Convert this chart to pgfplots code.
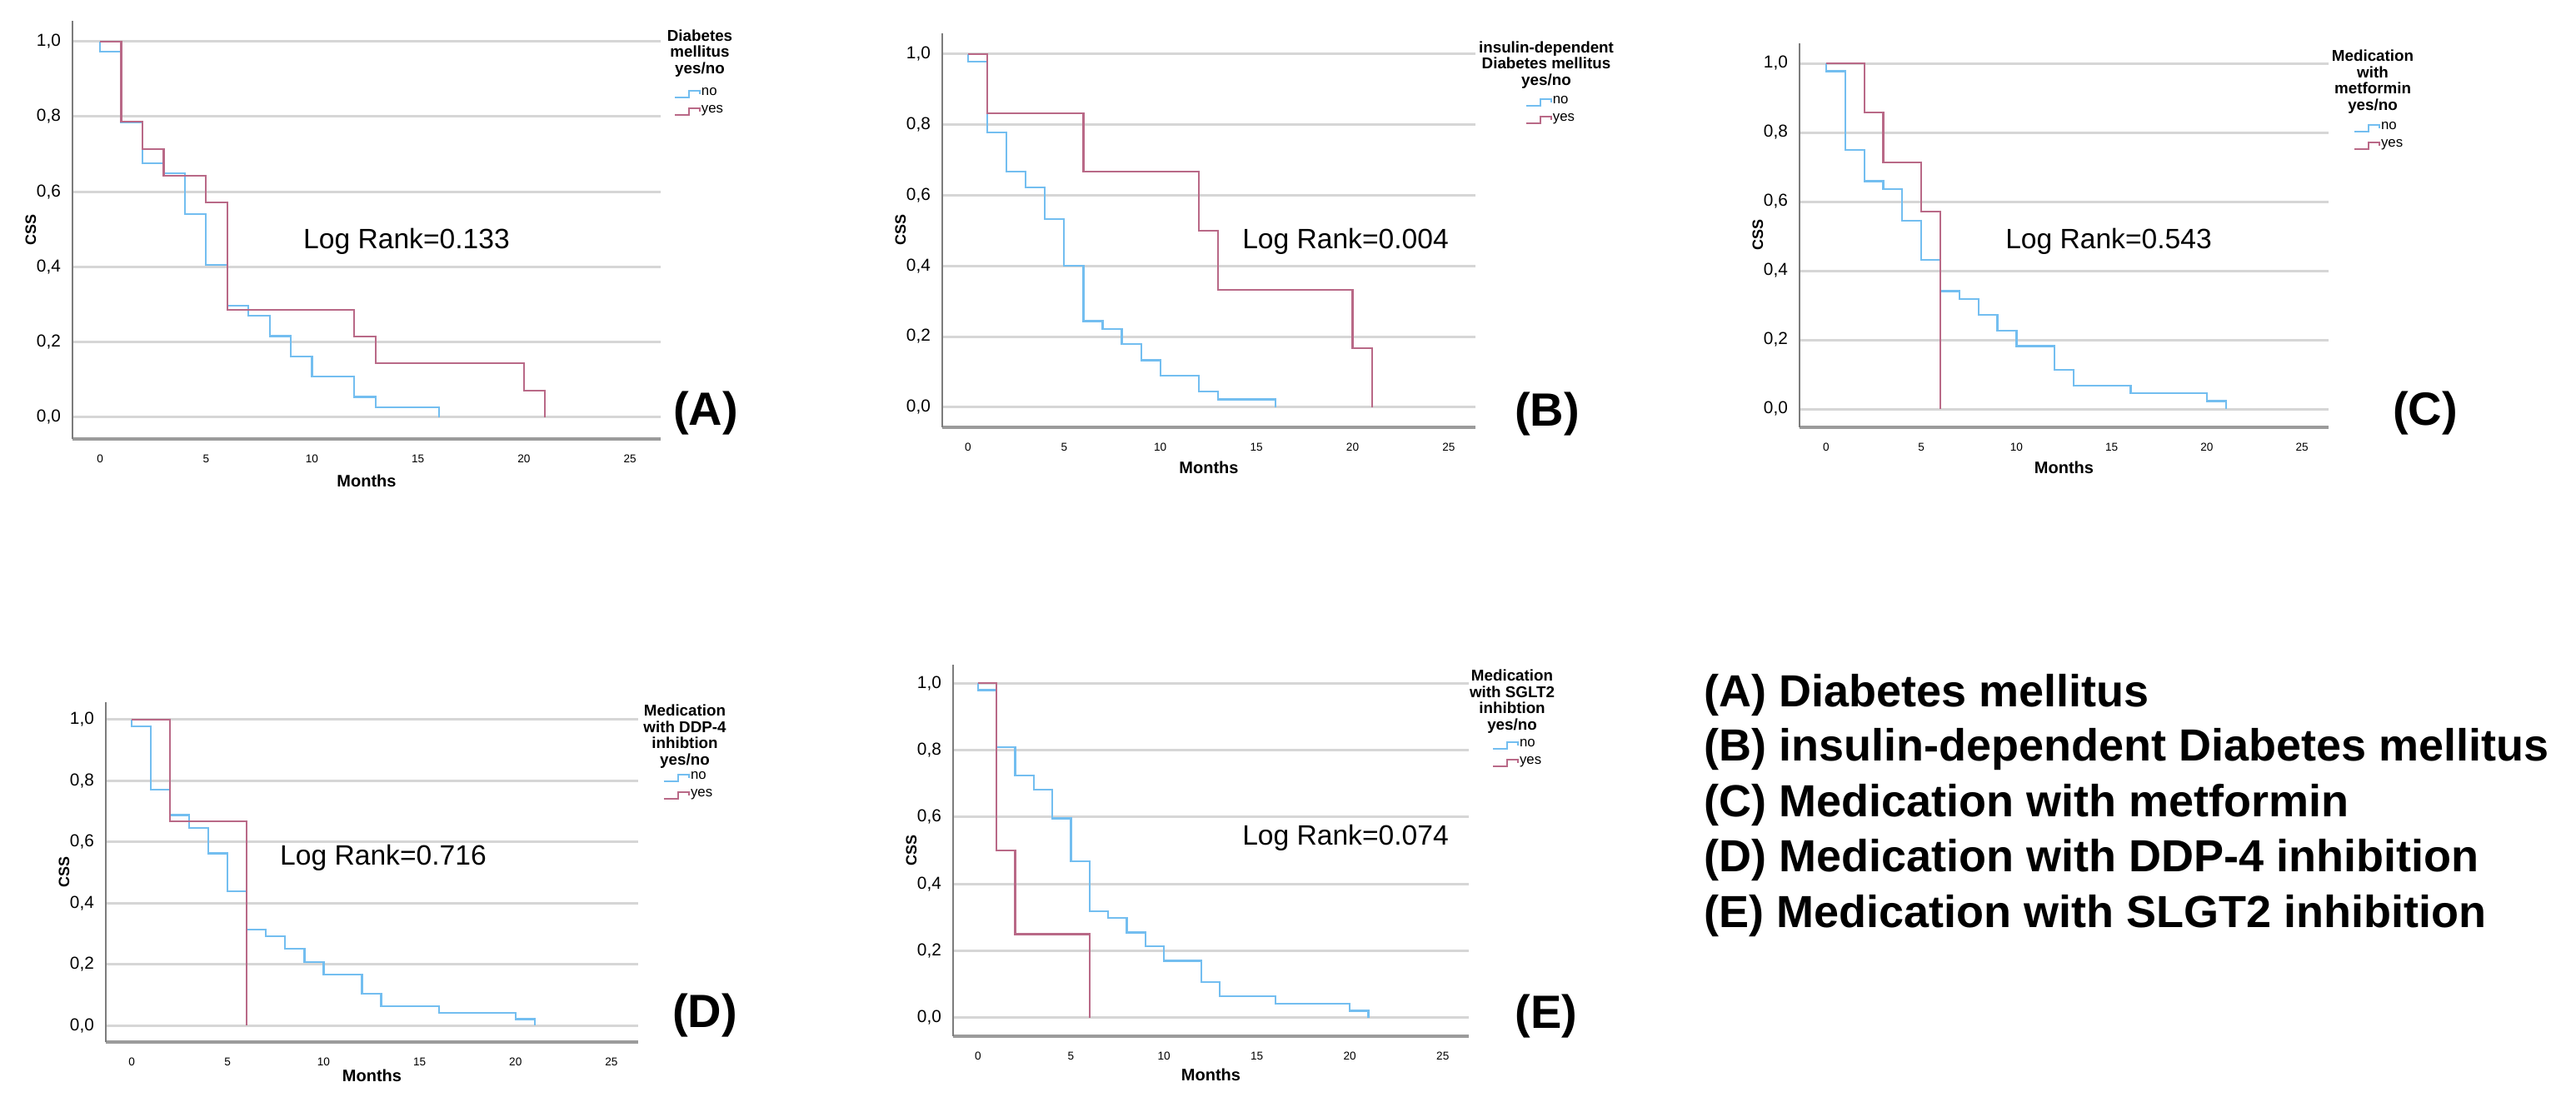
\documentclass[border=0pt]{standalone}
\usepackage{pgfplots}
\pgfplotsset{compat=1.18}
\usepackage{fontspec}
\setmainfont{Liberation Sans}

\definecolor{kmno}{RGB}{115,190,240}
\definecolor{kmyes}{RGB}{185,105,135}
\definecolor{gridc}{RGB}{214,214,214}
\definecolor{axc}{RGB}{155,155,155}

\newcommand{\fs}[2]{\fontsize{#1}{#2}\selectfont}

\pgfplotsset{
  km/.style={
    scale only axis,
    axis x line*=bottom, axis y line*=left,
    axis line style={-},
    x axis line style={draw=axc, line width=0.9pt},
    y axis line style={draw=axc!80!black, line width=0.5pt},
    xmin=-1.35, xmax=26.4, ymin=-0.056, ymax=1.057,
    xtick={0,5,10,15,20,25},
    ytick={0,0.2,0.4,0.6,0.8,1},
    ymajorgrids,
    grid style={draw=gridc, line width=0.75pt},
    major tick length=0pt,
    /pgf/number format/assume math mode=true,
    yticklabel style={font=\fs{5.2}{5.2}, /pgf/number format/.cd, fixed, fixed zerofill, precision=1, use comma},
    xticklabel style={font=\fs{3.4}{3.4}, yshift=-1.2pt},
    xlabel={Months}, ylabel={CSS},
    every axis x label/.style={at={(axis description cs:0.5,0)}, anchor=center, font=\bfseries\fs{5}{5}, yshift=-#1},
    every axis y label/.style={at={(axis description cs:0,0.5)}, rotate=90, anchor=center, font=\bfseries\fs{4.5}{4.5}, yshift=12.5pt},
    legend cell align=left,
    legend style={draw=none, fill=none, inner sep=0pt, row sep=1.1pt, anchor=west,
      nodes={inner sep=0.2pt, font=\fs{4.2}{4.2}}},
    legend image code/.code={\draw[##1, line width=0.5pt] (0pt,-1pt) -- (4.2pt,-1pt) -- (4.2pt,1pt) -- (7.6pt,1pt) -- (7.6pt,0pt);},
    no/.style={const plot, kmno, line width=0.55pt},
    yes/.style={const plot, kmyes, line width=0.55pt},
  }
}

\begin{document}
\begin{tikzpicture}
\useasboundingbox (0pt,0pt) rectangle (773pt,332pt);

% (A) Diabetes mellitus
\begin{axis}[km=12.5pt, at={(21.75pt,200.25pt)}, anchor=south west,
  width=176.5pt, height=125.5pt,
  xmin=-1.30, xmax=26.45, ymin=-0.058, ymax=1.055,
  legend style={at={(1.0212,0.8038)}}]
\addplot[no] coordinates {(0,1)(0,0.973)(1,0.784)(2,0.676)(3,0.649)(4,0.541)(5,0.405)(6,0.297)(7,0.270)(8,0.216)(9,0.162)(10,0.108)(12,0.054)(13,0.027)(16,0)};
\addlegendentry{no}
\addplot[yes] coordinates {(0,1)(1,0.786)(2,0.714)(3,0.643)(5,0.571)(6,0.286)(12,0.214)(13,0.143)(20,0.071)(21,0)};
\addlegendentry{yes}
\end{axis}

% (B) insulin-dependent Diabetes mellitus
\begin{axis}[km=12pt, at={(282.75pt,203.75pt)}, anchor=south west,
  width=160pt, height=118.25pt,
  xmin=-1.34, xmax=26.39, ymin=-0.057, ymax=1.059,
  legend style={at={(1.092,0.802)}}]
\addplot[no] coordinates {(0,1)(0,0.978)(1,0.778)(2,0.667)(3,0.622)(4,0.533)(5,0.400)(6,0.244)(7,0.222)(8,0.178)(9,0.133)(10,0.089)(12,0.044)(13,0.022)(16,0)};
\addlegendentry{no}
\addplot[yes] coordinates {(0,1)(1,0.833)(6,0.667)(12,0.5)(13,0.333)(20,0.167)(21,0)};
\addlegendentry{yes}
\end{axis}

% (C) Medication with metformin
\begin{axis}[km=12pt, at={(540pt,203.75pt)}, anchor=south west,
  width=158.75pt, height=115.25pt,
  xmin=-1.40, xmax=26.4, ymin=-0.053, ymax=1.058,
  legend style={at={(1.0457,0.756)}}]
\addplot[no] coordinates {(0,1)(0,0.977)(1,0.75)(2,0.659)(3,0.636)(4,0.545)(5,0.432)(6,0.341)(7,0.318)(8,0.273)(9,0.227)(10,0.182)(12,0.114)(13,0.068)(16,0.045)(20,0.023)(21,0)};
\addlegendentry{no}
\addplot[yes] coordinates {(0,1)(2,0.857)(3,0.714)(5,0.571)(6,0)};
\addlegendentry{yes}
\end{axis}

% (D) Medication with DDP-4 inhibition
\begin{axis}[km=10pt, at={(31.75pt,19.25pt)}, anchor=south west,
  width=159.75pt, height=102pt,
  xmin=-1.35, xmax=26.39, ymin=-0.054, ymax=1.057,
  legend style={at={(1.0454,0.751)}}]
\addplot[no] coordinates {(0,1)(0,0.979)(1,0.771)(2,0.688)(3,0.646)(4,0.563)(5,0.438)(6,0.313)(7,0.292)(8,0.25)(9,0.208)(10,0.167)(12,0.104)(13,0.063)(16,0.042)(20,0.021)(21,0)};
\addlegendentry{no}
\addplot[yes] coordinates {(0,1)(2,0.667)(6,0)};
\addlegendentry{yes}
\end{axis}

% (E) Medication with SGLT2 inhibition
\begin{axis}[km=11.5pt, at={(286pt,21pt)}, anchor=south west,
  width=154.75pt, height=111.5pt,
  xmin=-1.34, xmax=26.4, ymin=-0.055, ymax=1.055,
  legend style={at={(1.0436,0.758)}}]
\addplot[no] coordinates {(0,1)(0,0.979)(1,0.809)(2,0.723)(3,0.681)(4,0.596)(5,0.468)(6,0.319)(7,0.298)(8,0.255)(9,0.213)(10,0.170)(12,0.106)(13,0.064)(16,0.043)(20,0.021)(21,0)};
\addlegendentry{no}
\addplot[yes] coordinates {(0,1)(1,0.5)(2,0.25)(6,0)};
\addlegendentry{yes}
\end{axis}

% legend titles
\begin{scope}[every node/.style={align=center, font=\bfseries\fs{4.7}{4.9}, inner sep=0pt}]
\node at (210pt,316pt) {Diabetes\\mellitus\\yes/no};
\node at (464pt,312.5pt) {insulin-dependent\\Diabetes mellitus\\yes/no};
\node at (712pt,307.5pt) {Medication\\with\\metformin\\yes/no};
\node at (205.5pt,111pt) {Medication\\with DDP-4\\inhibtion\\yes/no};
\node at (453.75pt,121.5pt) {Medication\\with SGLT2\\inhibtion\\yes/no};
\end{scope}

% log rank annotations
\begin{scope}[every node/.style={font=\fs{8.4}{8.4}, inner sep=0pt}]
\node at (122pt,259.5pt) {Log Rank=0.133};
\node at (403.75pt,259.5pt) {Log Rank=0.004};
\node at (632.75pt,259.5pt) {Log Rank=0.543};
\node at (115pt,74.5pt) {Log Rank=0.716};
\node at (403.75pt,80.5pt) {Log Rank=0.074};
\end{scope}

% panel letters
\begin{scope}[every node/.style={font=\bfseries\fs{14}{14}, inner sep=0pt}]
\node at (211.75pt,208pt) {(A)};
\node at (464.25pt,207.75pt) {(B)};
\node at (727.75pt,208pt) {(C)};
\node at (211.5pt,27.25pt) {(D)};
\node at (464pt,27pt) {(E)};
\end{scope}

% key
\begin{scope}[every node/.style={font=\bfseries\fs{13.5}{13.5}, inner sep=0pt, anchor=west}]
\node at (511.25pt,123.25pt) {(A) Diabetes mellitus};
\node at (511.25pt,107pt) {(B) insulin-dependent Diabetes mellitus};
\node at (511.25pt,90.25pt) {(C) Medication with metformin};
\node at (511.25pt,73.75pt) {(D) Medication with DDP-4 inhibition};
\node at (511.25pt,57pt) {(E) Medication with SLGT2 inhibition};
\end{scope}
\end{tikzpicture}
\end{document}
